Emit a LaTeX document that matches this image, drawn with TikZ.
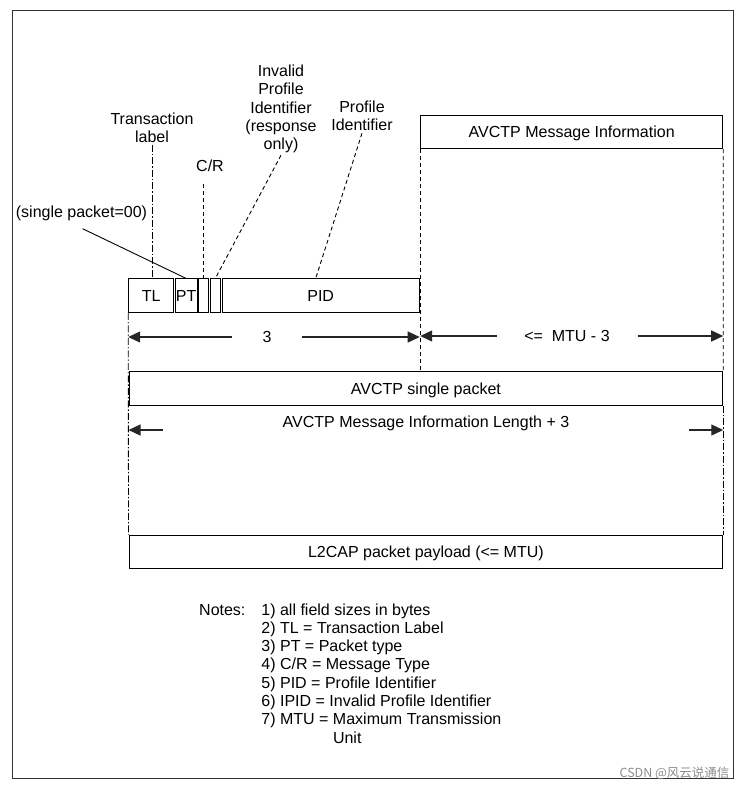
\documentclass[tikz,border=0pt]{standalone}
\usepackage{fontspec}
\setmainfont{Liberation Sans}
\newfontfamily\cjk{Noto Sans CJK SC}
\usetikzlibrary{arrows.meta}

\begin{document}
\begin{tikzpicture}[x=1pt, y=-1pt,
        every node/.style={font=\fontsize{16}{18.3}\selectfont},
        field/.style={draw, line width=1pt, inner sep=0pt, minimum height=33.5pt, text depth=-1.5pt},
        tag/.style={align=center, inner sep=2pt},
        guide/.style={dash pattern=on 4pt off 3pt, line width=0.9pt},
        guidedot/.style={dash pattern=on 7pt off 2pt on 1.5pt off 2pt, line width=0.9pt},
        dim/.style={-{Triangle[length=12pt,width=11pt]}, line width=1.2pt, black!85}]
        \useasboundingbox (0,0) rectangle (742,788);

        % Frame
        \draw[line width=1pt, black!80] (12,10) rectangle (733,778);

        % Draw fields
        \node[field, minimum width=45pt] (tl) at (151.2,295.7) {TL};
        \node[field, minimum width=22pt] (pt) at (186.2,295.7) {PT};
        \node[field, minimum width=10pt] (cr) at (203.5,295.7) {};
        \node[field, minimum width=10pt] (ipid) at (215.3,295.7) {};
        \node[field, minimum width=197pt] (pid) at (320.7,295.7) {PID};
        \node[field, minimum width=302pt] (msg) at (571.7,131.8) {AVCTP Message Information};
        \node[field, minimum width=593.7pt] (single) at (425.9,388.3) {AVCTP single packet};
        \node[field, minimum width=593.7pt] (l2cap) at (425.9,552) {L2CAP packet payload (<= MTU)};

        % Labels
        \node[tag] (translbl) at (152,127.5) {Transaction\\label};
        \node[tag] (crlbl) at (210,166) {C/R};
        \node[tag] (ipidlbl) at (281,109) {Invalid\\Profile\\Identifier\\(response\\only)};
        \node[tag] (pidlbl) at (362,116) {Profile\\Identifier};
        \node[tag] (ptlbl) at (81.5,213) {(single packet=00)};

        % Draw connections
        \draw[guidedot] (translbl.south) -- (translbl.south |- tl.north);
        \draw[guide] ([yshift=-10pt]crlbl.south -| cr.north) -- (cr.north);
        \draw[guide] (ipidlbl.south) -- (ipid.north);
        \draw[guide] (pidlbl.south) -- ([xshift=-5pt]pid.north);
        \draw[line width=0.9pt] ([xshift=1pt,yshift=-6pt]ptlbl.south) -- (pt.north);

        % Boundaries
        \draw[guidedot] (tl.south west) -- (l2cap.north west);
        \draw[guide] (msg.south west) -- (single.north -| msg.south west);
        \draw[guide] (msg.south east) -- (single.north east);
        \draw[guidedot] (single.south east) -- (l2cap.north east);

        % Sizes
        \node[minimum width=69pt, inner sep=0pt] (len3) at (267,337) {3};
        \draw[dim] (len3) -- (len3 -| tl.west);
        \draw[dim] (len3) -- (len3 -| pid.east);
        \node[minimum width=140.6pt, inner sep=0pt] (lenmtu) at (567,336) {<=\ \ MTU - 3};
        \draw[dim] (lenmtu) -- (lenmtu -| msg.west);
        \draw[dim] (lenmtu) -- (lenmtu -| msg.east);
        \node (lenlbl) at (426,423) {AVCTP Message Information Length + 3};
        \coordinate (lenL) at (163,430);
        \coordinate (lenR) at (689,430);
        \draw[dim] (lenL) -- (lenL -| single.west);
        \draw[dim] (lenR) -- (lenR -| single.east);

        % Notes
        \node[anchor=north west, inner sep=0pt] (notes) at (199,602) {\begin{tabular}{@{}l@{\hspace{16pt}}l@{}}
            Notes: & 1) all field sizes in bytes\\
                   & 2) TL = Transaction Label\\
                   & 3) PT = Packet type\\
                   & 4) C/R = Message Type\\
                   & 5) PID = Profile Identifier\\
                   & 6) IPID = Invalid Profile Identifier\\
                   & 7) MTU = Maximum Transmission\\
                   & \phantom{7) MTU = }Unit
        \end{tabular}};

        \node[anchor=east, font=\cjk\fontsize{12.5}{14}\selectfont, text=black!45] (mark) at (733,773) {CSDN @风云说通信};
\end{tikzpicture}
\end{document}
